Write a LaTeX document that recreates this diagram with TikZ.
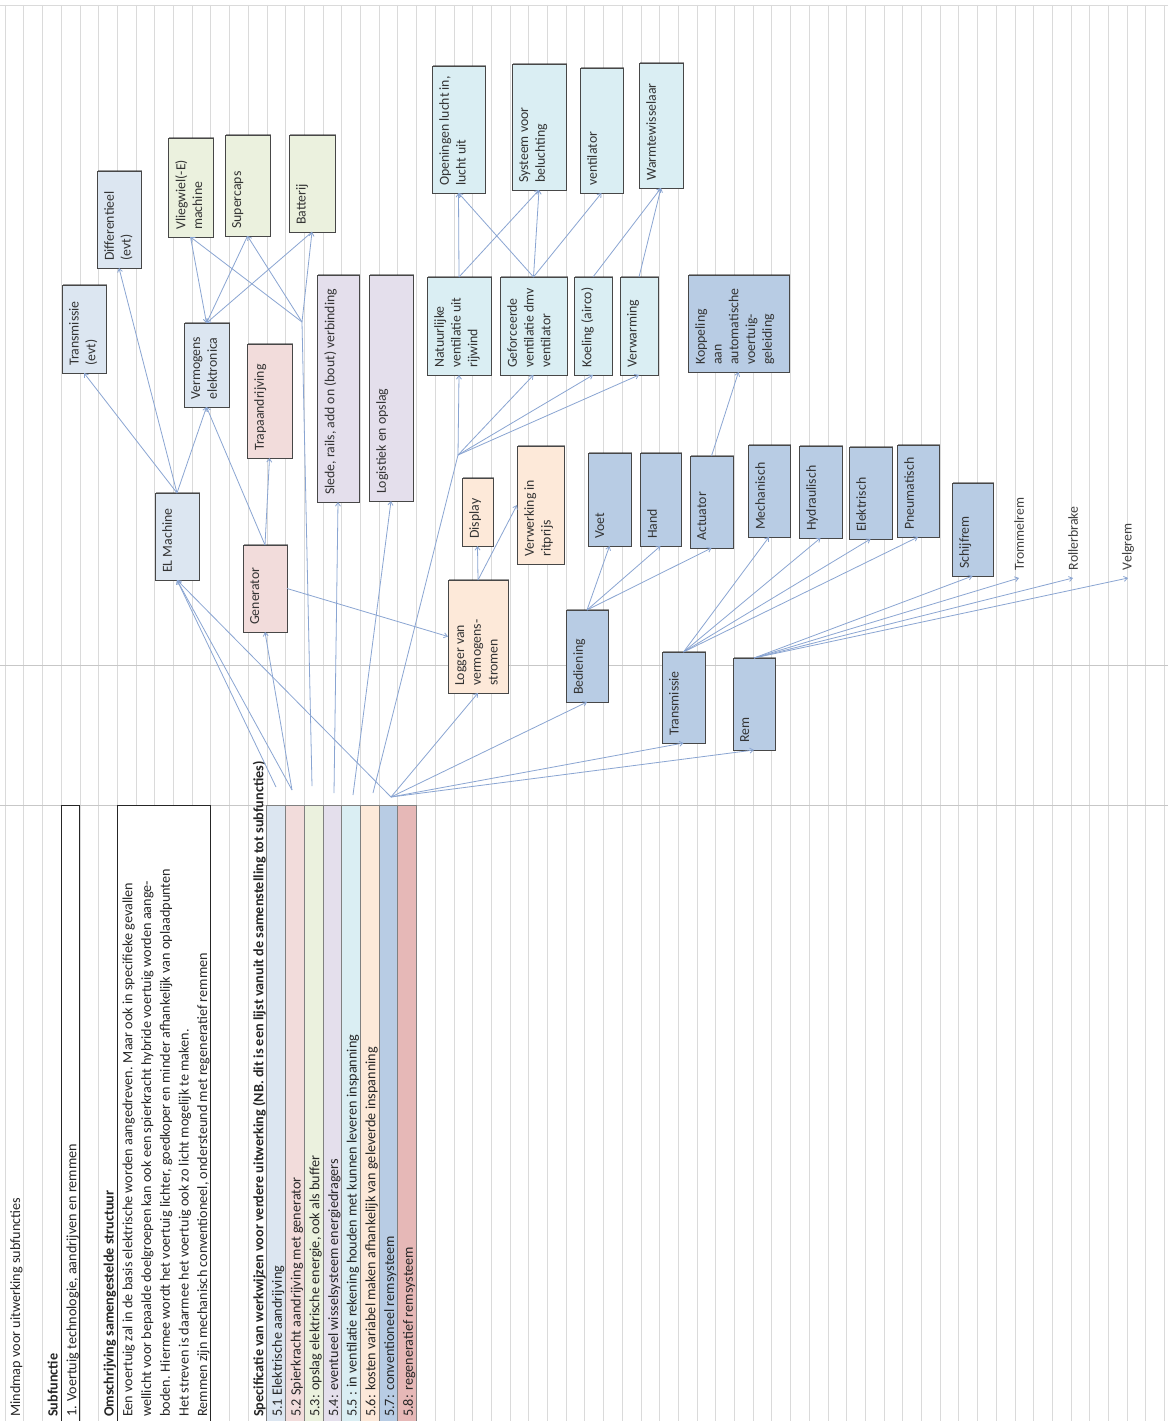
\documentclass[tikz,border=0pt]{standalone}
\usepackage{fontspec}
\setmainfont{Carlito}
\usetikzlibrary{arrows.meta,shadows}

\definecolor{cElBlue}{HTML}{DCE6F1}
\definecolor{cGreen}{HTML}{EBF1DE}
\definecolor{cPink}{HTML}{F2DCDB}
\definecolor{cLav}{HTML}{E4DFEC}
\definecolor{cCyan}{HTML}{DAEEF3}
\definecolor{cPeach}{HTML}{FDE9D9}
\definecolor{cBlue}{HTML}{B8CCE4}
\definecolor{cRed}{HTML}{E6B8B7}
\definecolor{cLine}{HTML}{8AA5D2}
\definecolor{cGrid}{HTML}{DADADA}

% box with its label set upright along the left/bottom corner
% #1 name, #2 fill, #3 x1, #4 y1, #5 x2, #6 y2, #7 text
\newcommand\mapbox[7]{%
  \node[mbox,fill=#2,minimum width={(#5-#3)*1pt},minimum height={(#6-#4)*1pt}]
    (#1) at ({(#3+#5)/2},{(#4+#6)/2}) {};
  \node[mlbl] (#1-t) at ([xshift=7pt,yshift=7pt]#1.south west) {#7};}

\begin{document}
\begin{tikzpicture}[x=1pt,y=-1pt,
  mbox/.style={draw=black!72,line width=0.9pt,inner sep=0pt,outer sep=0pt,
    drop shadow={shadow xshift=1.3pt,shadow yshift=1.3pt,opacity=0.4,fill=black}},
  mlbl/.style={rotate=90,anchor=north west,align=left,inner sep=0pt,
    font=\fontsize{13.8}{16.8}\selectfont,text=black!80},
  mtxt/.style={rotate=90,anchor=west,inner xsep=4pt,inner ysep=1pt,outer sep=4pt,
    font=\fontsize{13.8}{16.8}\selectfont,text=black!75},
  ltxt/.style={rotate=90,anchor=base west,inner sep=0pt,
    font=\fontsize{14.2}{17}\selectfont,text=black!85},
  conn/.style={draw=cLine,line width=0.8pt,-{Straight Barb[length=3.5pt,width=5pt]}},
  plain/.style={draw=cLine,line width=0.8pt},
  gridline/.style={draw=cGrid,line width=0.6pt}]

\useasboundingbox (0,0) rectangle (1168,1421);
\clip (0,0) rectangle (1168,1421);
\fill[white] (0,0) rectangle (1168,1421);

% sheet grid
\foreach \k in {0,...,62}
  \draw[gridline] ({5+18.7*\k},5) -- ({5+18.7*\k},1421);
\draw[gridline] (0,5) -- (1168,5);
\draw[draw=black!22,line width=0.7pt] (0,665) -- (1168,665);
\draw[draw=black!22,line width=0.7pt] (0,805) -- (1168,805);

% left-hand sheet text
\node[ltxt] (t-title) at (20.2,1417) {Mindmap voor uitwerking subfuncties};
\node[ltxt,font=\fontsize{14.2}{17}\selectfont\bfseries] (t-sub) at (57.6,1417) {Subfunctie};
\filldraw[fill=white,draw=black!85,line width=0.8pt] (61.1,805) rectangle (79.8,1430);
\node[ltxt] (t-sub1) at (76.3,1417) {1. Voertuig technologie, aandrijven en remmen};
\node[ltxt,font=\fontsize{14.2}{17}\selectfont\bfseries] (t-oms) at (113.7,1417)
  {\underline{Omschrijving samengestelde structuur}};
\filldraw[fill=white,draw=black!85,line width=0.8pt] (117.2,805) rectangle (210.7,1430);
\node[ltxt] (t-d1) at (132.4,1417) {Een voertuig zal in de basis elektrische worden aangedreven. Maar ook in specifieke gevallen};
\node[ltxt] (t-d2) at (151.1,1417) {wellicht voor bepaalde doelgroepen kan ook een spierkracht hybride voertuig worden aange-};
\node[ltxt] (t-d3) at (169.8,1417) {boden. Hiermee wordt het voertuig lichter, goedkoper en minder afhankelijk van oplaadpunten};
\node[ltxt] (t-d4) at (188.5,1417) {Het streven is daarmee het voertuig ook zo licht mogelijk te maken.};
\node[ltxt] (t-d5) at (207.2,1417) {Remmen zijn mechanisch conventioneel, ondersteund met regeneratief remmen};
\node[ltxt,font=\fontsize{14.2}{17}\selectfont\bfseries] (t-spec) at (263.3,1417)
  {Specificatie van werkwijzen voor verdere uitwerking (NB. dit is een lijst vanuit de samenstelling tot subfuncties)};

% coloured specification strips
\foreach \i/\c/\t in {
  1/cElBlue/{5.1 Elektrische aandrijving},
  2/cPink/{5.2 Spierkracht aandrijving met generator},
  3/cGreen/{5.3: opslag elektrische energie, ook als buffer},
  4/cLav/{5.4: eventueel wisselsysteem energiedragers},
  5/cCyan/{5.5 : in ventilatie rekening houden met kunnen leveren inspanning},
  6/cPeach/{5.6: kosten variabel maken afhankelijk van geleverde inspanning},
  7/cBlue/{5.7: conventioneel remsysteem},
  8/cRed/{5.8: regeneratief remsysteem}} {
  \filldraw[fill=\c,draw=black!50,line width=0.7pt]
    ({266.8+18.7*(\i-1)},805) rectangle ({266.8+18.7*\i},1430);
  \node[ltxt] (spec\i) at ({266.8+18.7*\i-3.6},1417) {\t};
}

% drive train
\mapbox{trevt}{cElBlue}{62}{285}{106}{373}{Transmissie\\(evt)}
\mapbox{diff}{cElBlue}{97}{171}{141}{268}{Differentieel\\(evt)}
\mapbox{verm}{cElBlue}{184}{323}{229}{407}{Vermogens\\elektronica}
\mapbox{elm}{cElBlue}{155}{493}{199}{580}{EL Machine}
% storage
\mapbox{vlieg}{cGreen}{168}{138}{213}{237}{Vliegwiel(-E)\\machine}
\mapbox{super}{cGreen}{225}{135}{270}{236}{Supercaps}
\mapbox{batt}{cGreen}{289}{135}{335}{232}{Batterij}
% muscle power
\mapbox{trap}{cPink}{247}{344}{292}{458}{Trapaandrijving}
\mapbox{gen}{cPink}{243}{545}{287}{632}{Generator}
% exchange system
\mapbox{slede}{cLav}{317}{275}{359}{502}{Slede, rails, add on (bout) verbinding}
\mapbox{logis}{cLav}{369}{275}{413}{501}{Logistiek en opslag}
% ventilation
\mapbox{nat}{cCyan}{427}{277}{491}{375}{Natuurlijke\\ventilatie uit\\rijwind}
\mapbox{gef}{cCyan}{500}{277}{567}{375}{Geforceerde\\ventilatie dmv\\ventilator}
\mapbox{koel}{cCyan}{574}{277}{612}{375}{Koeling (airco)}
\mapbox{verw}{cCyan}{620}{277}{658}{375}{Verwarming}
\mapbox{open}{cCyan}{432}{66}{485}{193}{Openingen lucht in,\\lucht uit}
\mapbox{syst}{cCyan}{512}{64}{566}{190}{Systeem voor\\beluchting}
\mapbox{vent}{cCyan}{580}{68}{623}{193}{ventilator}
\mapbox{warm}{cCyan}{639}{63}{683}{188}{Warmtewisselaar}
% fare logging
\mapbox{disp}{cPeach}{462}{478}{493}{546}{Display}
\mapbox{verwk}{cPeach}{517}{446}{564}{564}{Verwerking in\\ritprijs}
\mapbox{logger}{cPeach}{448}{580}{508}{693}{Logger van\\vermogens-\\stromen}
% braking and control
\mapbox{kopp}{cBlue}{688}{275}{789}{372}{Koppeling\\aan\\automatische\\voertuig-\\geleiding}
\mapbox{voet}{cBlue}{588}{453}{631}{546}{Voet}
\mapbox{hand}{cBlue}{640}{453}{681}{546}{Hand}
\mapbox{act}{cBlue}{690}{456}{733}{548}{Actuator}
\mapbox{mech}{cBlue}{748}{445}{790}{537}{Mechanisch}
\mapbox{hydr}{cBlue}{799}{446}{842}{538}{Hydraulisch}
\mapbox{elek}{cBlue}{849}{447}{892}{539}{Elektrisch}
\mapbox{pneu}{cBlue}{897}{445}{939}{537}{Pneumatisch}
\mapbox{schijf}{cBlue}{952}{483}{993}{576}{Schijfrem}
\mapbox{bed}{cBlue}{566}{610}{608}{702}{Bediening}
\mapbox{trans}{cBlue}{662}{652}{705}{743}{Transmissie}
\mapbox{rem}{cBlue}{733}{658}{775}{750}{Rem}

\node[mtxt] (trom) at (1019,578) {Trommelrem};
\node[mtxt] (roll) at (1073,578) {Rollerbrake};
\node[mtxt] (velg) at (1128,578) {Velgrem};

% connector ends above the strips and junction points
\coordinate (s1) at (276,787);
\coordinate (s2) at (292,790);
\coordinate (s3) at (312,786);
\coordinate (s4) at (334,793);
\coordinate (s5) at (353,795);
\coordinate (s6) at (373,793);
\coordinate (s7) at (391,797);
\coordinate (hubS) at (302,322);
\coordinate (hubV) at (458,455);

% connectors
\draw[conn] (s1) -- (elm.south);
\draw[conn] (s2) -- (elm.south);
\draw[conn] (s2) -- (gen.south);
\draw[plain] (s3) -- (hubS);
\foreach \b in {vlieg,super,batt} {
  \draw[conn] (hubS) -- (\b.south);
  \draw[conn] (\b.south) -- (verm.north);
}
\draw[conn] (elm.north) -- (trevt.south);
\draw[conn] (elm.north) -- (diff.south);
\draw[conn] (elm.north) -- (verm.south);
\draw[conn] (gen.north) -- (trap.south);
\draw[conn] (gen.north) -- (verm.south);
\draw[conn] (gen.east) -- (logger.west);
\draw[conn] (s4) -- (slede.south);
\draw[conn] (s5) -- (logis.south);
\draw[plain] (s6) -- (hubV);
\foreach \b in {nat,gef,koel,verw}
  \draw[conn] (hubV) -- (\b.south);
\draw[conn] (nat.north) -- (open.south);
\draw[conn] (nat.north) -- (syst.south);
\draw[conn] (gef.north) -- (open.south);
\draw[conn] (gef.north) -- (syst.south);
\draw[conn] (gef.north) -- (vent.south);
\draw[conn] (koel.north) -- (warm.south);
\draw[conn] (verw.north) -- (warm.south);
\draw[conn] (act.north) -- (kopp.south);
\draw[conn] (logger.north) -- (disp.south);
\draw[conn] (logger.north) -- (verwk.west);
\foreach \b in {elm,logger,bed,trans,rem}
  \draw[conn] (s7) -- (\b.south);
\foreach \b in {voet,hand,act}
  \draw[conn] (bed.north) -- (\b.south);
\foreach \b in {mech,hydr,elek,pneu}
  \draw[conn] (trans.north) -- (\b.south);
\draw[conn] (rem.north) -- (schijf.south);
\foreach \b in {trom,roll,velg}
  \draw[conn] (rem.north) -- (\b.west);

\end{tikzpicture}
\end{document}
